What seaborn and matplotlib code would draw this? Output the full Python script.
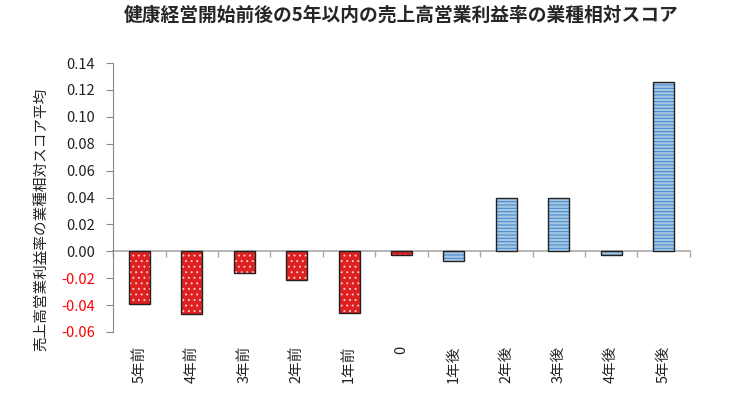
import numpy as np
import pandas as pd
import matplotlib
matplotlib.use('Agg')
import matplotlib.pyplot as plt
import seaborn as sns

labels = ['5年前', '4年前', '3年前', '2年前', '1年前', '0',
          '1年後', '2年後', '3年後', '4年後', '5年後']
values = [-0.039, -0.047, -0.016, -0.021, -0.046, -0.003,
          -0.007, 0.040, 0.040, -0.003, 0.126]
groups = ['前'] * 6 + ['後'] * 5
yticks = [-0.06, -0.04, -0.02, 0.00, 0.02, 0.04, 0.06, 0.08, 0.10, 0.12, 0.14]

title = '健康経営開始前後の5年以内の売上高営業利益率の業種相対スコア'
ylabel = '売上高営業利益率の業種相対スコア平均'

sns.set_style('white')
plt.rcParams['font.family'] = ['Noto Sans CJK JP', 'DejaVu Sans']
plt.rcParams['hatch.linewidth'] = 0.7

df = pd.DataFrame({'label': labels, 'value': values, 'group': groups})

fig = plt.figure(figsize=(7.3, 3.99), dpi=100)
ax = fig.add_axes([0.155, 0.168, 0.79, 0.674])

pal = {'前': '#ff0000', '後': '#9cc7ec'}
# fill with hatch pattern
sns.barplot(data=df, x='label', y='value', hue='group', palette=pal,
            dodge=False, width=0.4, legend=False, ax=ax, linewidth=0,
            edgecolor='white')
for p, g in zip(ax.patches, groups):
    if g == '前':
        p.set_hatch('...')
        p.set_edgecolor('#ffc8c8')
    else:
        p.set_hatch('-----')
        p.set_edgecolor('#3a87cf')
    p.set_linewidth(0)
# outlines
sns.barplot(data=df, x='label', y='value', fill=False, width=0.4,
            color='black', linewidth=1.0, ax=ax, errorbar=None)
for p in ax.patches[len(labels):]:
    p.set_edgecolor('#222222')

ax.set_xlim(-0.5, len(labels) - 0.5)
ax.set_ylim(-0.06, 0.14)
ax.set_yticks(yticks)
ax.set_yticklabels([f'{v:.2f}' for v in yticks], fontsize=10.5)
for t, v in zip(ax.get_yticklabels(), yticks):
    t.set_color('red' if v < 0 else '#222222')
ax.tick_params(axis='y', direction='out', length=5, color='#888888', left=True, pad=8)

ax.set_xticks(range(len(labels)))
ax.set_xticklabels(labels, rotation=90, fontsize=10.5, color='#222222')
ax.tick_params(axis='x', length=0, pad=10)
ax.set_xlabel('')
ax.set_ylabel(ylabel, fontsize=10.5, color='#222222')
ax.yaxis.set_label_coords(-0.112, 0.42)

for s in ['top', 'right', 'bottom']:
    ax.spines[s].set_visible(False)
ax.spines['left'].set_color('#888888')

# zero axis with separator ticks
zero_frac = (0 - (-0.06)) / (0.14 - (-0.06))
sec = ax.secondary_xaxis(zero_frac)
sec.set_xticks(np.arange(-0.5, len(labels), 1.0))
sec.set_xticklabels([])
sec.xaxis.set_ticks_position('bottom')
sec.tick_params(axis='x', direction='out', length=4, color='#aaaaaa', width=1.0)
for s in sec.spines.values():
    s.set_color('#aaaaaa')
    s.set_linewidth(1.2)

fig.suptitle(title, fontsize=13.5, fontweight='bold', x=0.55, y=0.985)

fig.savefig('out.png', dpi=100)
